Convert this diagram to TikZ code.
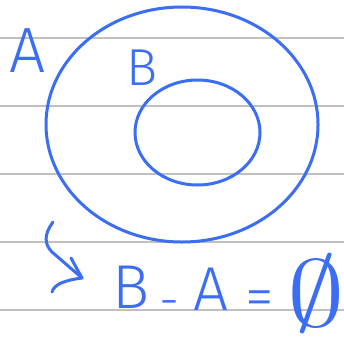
\documentclass[tikz,border=0pt]{standalone}
\usepackage{fontspec}
\usetikzlibrary{shapes.geometric}
\newfontfamily\hand{Fira Sans Light}
\definecolor{pen}{RGB}{59,110,245}
\definecolor{rule}{RGB}{192,192,192}
\begin{document}
\begin{tikzpicture}[x=1pt,y=-1pt,
  ruleline/.style={rule,line width=1.3pt},
  ink/.style={pen,line width=3pt,line cap=round,line join=round},
  glyph/.style={pen,inner sep=0pt,anchor=base,font=\hand}]
\useasboundingbox[fill=white] (0,0) rectangle (344,340);
% ruled lines
\foreach \yy/\nm in {38/r1,106/r2,174/r3,242/r4,310/r5}
  \draw[ruleline] (0,\yy) coordinate (\nm L) -- (344,\yy) coordinate (\nm R);
% sets
\node[ink,draw,ellipse,minimum width=272pt,minimum height=235pt,inner sep=0pt] (outer) at (182,124.5) {};
\node[ink,draw,ellipse,minimum width=125pt,minimum height=105pt,inner sep=0pt] (inner) at (197.5,132.5) {};
% labels
\node[glyph,font=\hand\fontsize{64}{64}\selectfont] (labA) at (28,72) {A};
\node[glyph,font=\hand\fontsize{52}{52}\selectfont] (labB) at (142,85) {B};
% arrow
\coordinate (a0) at (53,222);
\coordinate (a1) at (82,278);
\coordinate (h1) at (71,258);
\coordinate (h2) at (52,292);
\draw[ink] (a0) .. controls (44,234) and (44,244) .. (52,252) -- (a1);
\draw[ink] (h1) -- (a1) .. controls (66,280) and (54,284) .. (h2);
% equation
\node[glyph,font=\hand\fontsize{62}{62}\selectfont] (eqB) at (131,308) {B};
\node[glyph,anchor=center,font=\hand\fontsize{50}{50}\selectfont] (eqM) at (170,309) {-};
\node[glyph,anchor=center,font=\hand\fontsize{58}{58}\selectfont] (eqE) at (260,304) {=};
\node[glyph,font=\hand\fontsize{62}{62}\selectfont] (eqA) at (211,310) {A};
\node[pen,inner sep=0pt] (eqN) at (316,294) {\scalebox{11.5}[9.5]{$\emptyset$}};
\end{tikzpicture}
\end{document}
